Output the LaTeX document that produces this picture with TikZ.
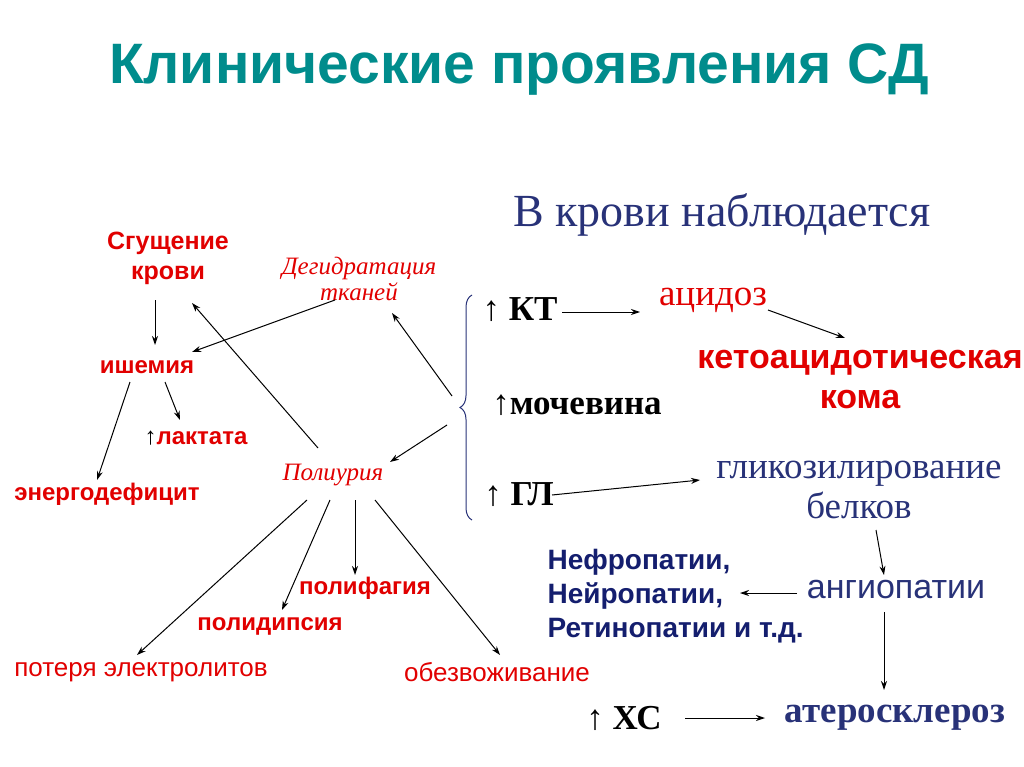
\documentclass[tikz,border=0pt]{standalone}
\usepackage{fontspec}
\setmainfont{Liberation Serif}
\setsansfont{Liberation Sans}
\usetikzlibrary{arrows.meta,decorations.pathreplacing}
\definecolor{teal1}{RGB}{0,140,140}
\definecolor{dblue}{RGB}{40,50,120}
\definecolor{nblue}{RGB}{20,30,110}
\definecolor{rred}{RGB}{225,0,0}
\newcommand{\uparr}{{\rmfamily\mdseries ↑}}
\begin{document}
\begin{tikzpicture}[x=1pt,y=-1pt,
 ar/.style={-{Stealth[length=9pt,width=6pt]},line width=1pt},
 rs/.style={text=rred,font=\sffamily\bfseries\fontsize{24}{30}\selectfont,align=center,inner sep=1pt},
 ri/.style={text=rred,font=\itshape\fontsize{25}{26}\selectfont,align=center,inner sep=1pt},
 bk/.style={font=\bfseries\fontsize{35}{40}\selectfont,inner sep=1pt},
 bl/.style={text=dblue,font=\fontsize{36}{40}\selectfont,align=center,inner sep=1pt}]
\useasboundingbox (0,0) rectangle (1024,767);
\node[text=teal1,font=\sffamily\bfseries\fontsize{57}{60}\selectfont] (t) at (519,70) {Клинические проявления СД};
\node[bl,font=\fontsize{46}{50}\selectfont] (vk) at (722,215) {В крови наблюдается};
\node[rs,font=\sffamily\bfseries\fontsize{25}{30}\selectfont] (sg) at (168,258) {Сгущение\\крови};
\node[ri] (dg) at (359,279) {Дегидратация\\тканей};
\node[rs] (ish) at (147,367) {ишемия};
\node[rs] (lak) at (196,438) {{\color{black}\uparr}лактата};
\node[rs] (en) at (107,494) {энергодефицит};
\node[ri] (pol) at (333,475) {Полиурия};
\node[rs,font=\sffamily\fontsize{26}{30}\selectfont] (pot) at (141,672) {потеря электролитов};
\node[rs] (pd) at (270,626) {полидипсия};
\node[rs] (pf) at (365,588) {полифагия};
\node[rs,font=\sffamily\fontsize{26}{30}\selectfont] (ob) at (497,672) {обезвоживание};
\node[bk] (kt) at (520,310) {\uparr\ КТ};
\node[bk] (mo) at (577,405) {\uparr мочевина};
\node[bk] (gl) at (519,495) {\uparr\ ГЛ};
\node[text=rred,font=\fontsize{37}{40}\selectfont] (ac) at (713,300) {ацидоз};
\node[text=rred,font=\sffamily\bfseries\fontsize{34}{40}\selectfont,align=center] (ka) at (860,380) {кетоацидотическая\\кома};
\node[bl,font=\fontsize{37}{40}\selectfont] (gb) at (859,490) {гликозилирование\\белков};
\node[text=dblue,font=\sffamily\fontsize{34}{40}\selectfont] (an) at (896,590) {ангиопатии};
\node[text=nblue,font=\sffamily\bfseries\fontsize{28}{34}\selectfont,align=left,anchor=west] (ne) at (544,596) {Нефропатии,\\Нейропатии,\\Ретинопатии и т.д.};
\node[bk] (xc) at (624,718) {\uparr\ ХС};
\node[text=dblue,font=\bfseries\fontsize{37}{40}\selectfont] (at) at (895,718) {атеросклероз};
\draw[dblue,line width=1pt,decorate,decoration={brace,amplitude=12pt,mirror}] (472,295) -- (472,520);
\draw[ar] (155,300) -- (155,345);
\draw[ar] (335,300) -- (192,352);
\draw[ar] (165,382) -- (180,420);
\draw[ar] (130,382) -- (97,480);
\draw[ar] (318,448) -- (192,303);
\draw[ar] (452,396) -- (392,313);
\draw[ar] (447,425) -- (390,462);
\draw[ar] (307,500) -- (137,655);
\draw[ar] (330,500) -- (282,610);
\draw[ar] (355,500) -- (355,575);
\draw[ar] (375,500) -- (500,655);
\draw[ar] (562,312) -- (640,312);
\draw[ar] (768,310) -- (845,338);
\draw[ar] (552,495) -- (700,480);
\draw[ar] (876,530) -- (884,575);
\draw[ar] (797,593) -- (740,593);
\draw[ar] (884,612) -- (884,690);
\draw[ar] (685,718) -- (765,718);
\end{tikzpicture}
\end{document}
